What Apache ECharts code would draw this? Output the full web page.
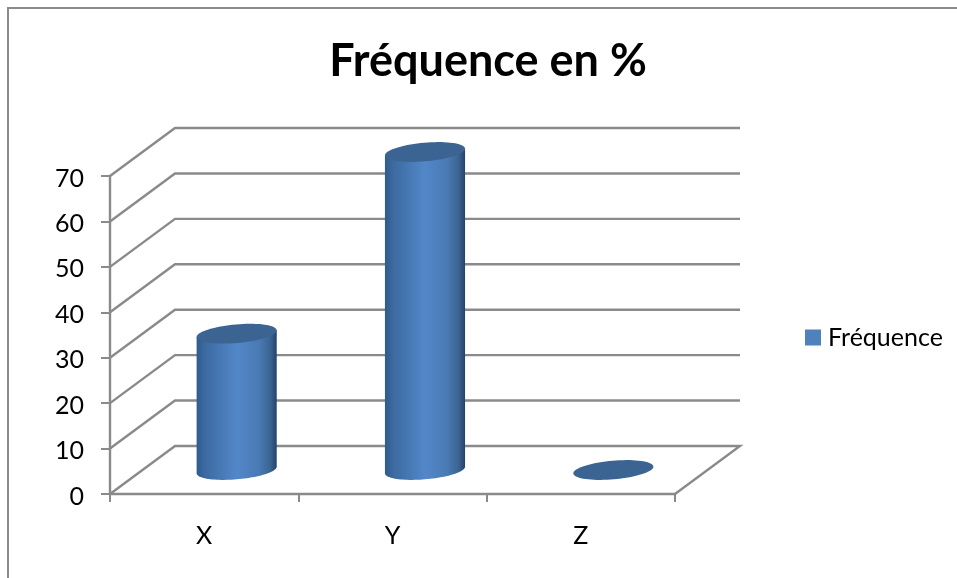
<!DOCTYPE html>
<html>
<head>
<meta charset="utf-8">
<style>html,body{margin:0;padding:0;background:#fff}#chart{width:957px;height:578px}</style>
<script src="https://cdn.jsdelivr.net/npm/echarts@6/dist/echarts.min.js"></script>
</head>
<body>
<div id="chart"></div>
<script>
// Share of answers per category, drawn as a pseudo-3D cylinder column chart.
const categories = ['X', 'Y', 'Z'];
const frequencies = [30, 70, 0];
const wallTicks = [0, 10, 20, 30, 40, 50, 60, 70];
const seriesName = 'Fréquence';
const titleText = 'Fréquence en %';

// Projection of the chart's depth axis, in pixels.
const DEPTH_X = 65;
const DEPTH_Y = -48;
// Cap ellipse of a cylinder.
const CAP_A = 40.2;
const CAP_B = 9.3;
const CAP_TILT = 5 * Math.PI / 180;

const LINE = '#8a8a8a';
const FONT = 'Lato, "Open Sans", sans-serif';

function capPoint(c, t) {
  const ct = Math.cos(t), st = Math.sin(t);
  return [
    c[0] + CAP_A * ct * Math.cos(CAP_TILT) + CAP_B * st * Math.sin(CAP_TILT),
    c[1] - CAP_A * ct * Math.sin(CAP_TILT) + CAP_B * st * Math.cos(CAP_TILT)
  ];
}

// Back wall and floor lines running from the value axis to the far side.
function renderWall(params, api) {
  const v = api.value(0);
  const front = api.coord([0, v]);
  const left = front[0] - api.size([1, 0])[0] / 2;
  const right = api.coord([categories.length - 1, v])[0] + api.size([1, 0])[0] / 2;
  const points = [
    [left, front[1]],
    [left + DEPTH_X, front[1] + DEPTH_Y],
    [right + DEPTH_X, front[1] + DEPTH_Y]
  ];
  if (v === 0) points.push([right, front[1]]);
  return {
    type: 'polyline',
    shape: { points },
    style: { stroke: LINE, lineWidth: 2.4, fill: null },
    silent: true
  };
}

// One cylinder: shaded body with a flat darker cap on top.
function renderCylinder(params, api) {
  const cat = api.value(0);
  const base = api.coord([cat, 0]);
  const top = api.coord([cat, api.value(1)]);
  const baseC = [base[0] + DEPTH_X / 2, base[1] + DEPTH_Y / 2];
  const topC = [top[0] + DEPTH_X / 2, top[1] + DEPTH_Y / 2];
  const t0 = Math.atan((CAP_B / CAP_A) * Math.tan(CAP_TILT));

  const capPts = [];
  for (let i = 0; i < 72; i++) capPts.push(capPoint(topC, i / 72 * 2 * Math.PI));
  const children = [];

  if (baseC[1] - topC[1] > 1) {
    const body = [];
    for (let i = 0; i <= 48; i++) body.push(capPoint(baseC, t0 + i / 48 * Math.PI));
    body.push(capPoint(topC, t0 + Math.PI), capPoint(topC, t0));
    children.push({
      type: 'polygon',
      shape: { points: body },
      style: {
        fill: {
          type: 'linear', x: 0, y: 0, x2: 1, y2: 0,
          colorStops: [
            { offset: 0, color: '#2f5a8c' },
            { offset: 0.1, color: '#3c6aa0' },
            { offset: 0.5, color: '#5287c9' },
            { offset: 0.78, color: '#4a7ab3' },
            { offset: 0.92, color: '#3a6492' },
            { offset: 1, color: '#24426a' }
          ]
        }
      }
    });
  }
  children.push({
    type: 'polygon',
    shape: { points: capPts },
    style: { fill: '#3c6493' }
  });
  return { type: 'group', children };
}

const chart = echarts.init(document.getElementById('chart'), null, { renderer: 'canvas' });
chart.setOption({
  animation: false,
  backgroundColor: '#ffffff',
  title: {
    text: titleText,
    left: 483,
    top: 34,
    textAlign: 'center',
    textStyle: { fontFamily: FONT, fontSize: 45, fontWeight: 'bold', color: '#000' }
  },
  legend: {
    data: [seriesName],
    left: 800,
    top: 320,
    icon: 'rect',
    itemWidth: 16,
    itemHeight: 16,
    itemGap: 0,
    textStyle: { fontFamily: FONT, fontSize: 25, color: '#000', padding: [0, 0, 0, 2] }
  },
  grid: { left: 110, top: 176, width: 565, height: 318 },
  xAxis: {
    type: 'category',
    data: categories,
    axisLine: { lineStyle: { color: LINE, width: 2.4 } },
    axisTick: { show: true, alignWithLabel: false, length: 8, lineStyle: { color: LINE, width: 2 } },
    axisLabel: { fontFamily: FONT, fontSize: 25, color: '#000', margin: 29 }
  },
  yAxis: {
    type: 'value',
    min: 0,
    max: 70,
    interval: 10,
    splitLine: { show: false },
    axisLine: { show: true, lineStyle: { color: LINE, width: 2.4 } },
    axisTick: { show: true, length: 9, lineStyle: { color: LINE, width: 2 } },
    axisLabel: { fontFamily: FONT, fontSize: 25, color: '#000', margin: 26, verticalAlign: 'top', lineHeight: 5 }
  },
  series: [
    {
      type: 'custom',
      name: 'walls',
      coordinateSystem: 'cartesian2d',
      renderItem: renderWall,
      encode: { y: 0 },
      data: wallTicks.map(v => [v]),
      z: 1,
      silent: true
    },
    {
      type: 'custom',
      name: seriesName,
      coordinateSystem: 'cartesian2d',
      renderItem: renderCylinder,
      encode: { x: 0, y: 1 },
      itemStyle: { color: '#4f81bd' },
      data: frequencies.map((v, i) => [i, v]),
      z: 3
    }
  ],
  graphic: [
    {
      type: 'polyline',
      shape: { points: [[8, 578], [8, 8], [957, 8]] },
      style: { stroke: '#8a8a8a', lineWidth: 2, fill: null },
      silent: true
    }
  ]
});
</script>
</body>
</html>
